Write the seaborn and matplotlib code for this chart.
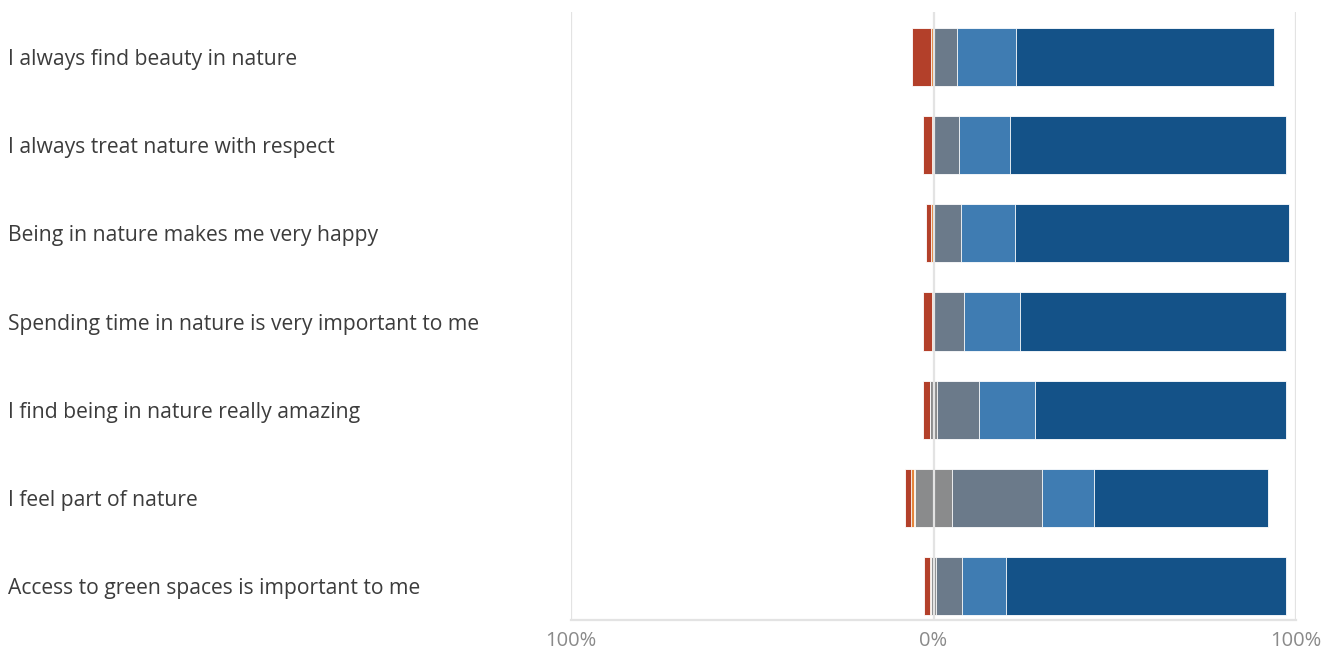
import matplotlib
matplotlib.use("Agg")
import matplotlib.pyplot as plt
import matplotlib.transforms as mtransforms
import pandas as pd
import seaborn as sns

# Survey statements (top to bottom)
statements = [
    "I always find beauty in nature",
    "I always treat nature with respect",
    "Being in nature makes me very happy",
    "Spending time in nature is very important to me",
    "I find being in nature really amazing",
    "I feel part of nature",
    "Access to green spaces is important to me",
]

# Response shares (%) on a 7-point agreement scale
strongly_disagree = [5.2, 2.5, 1.6, 2.4, 1.8, 1.5, 1.8]
disagree = [0.6, 0.3, 0.4, 0.3, 0.1, 0.8, 0.2]
somewhat_disagree = [0.0, 0.0, 0.0, 0.0, 0.0, 0.5, 0.0]
neutral = [0.3, 0.4, 0.4, 0.4, 2.0, 10.0, 1.4]
somewhat_agree = [6.3, 6.9, 7.4, 8.2, 11.6, 24.8, 7.2]
agree = [16.3, 14.1, 14.9, 15.4, 15.4, 14.6, 12.1]
strongly_agree = [71.3, 75.9, 75.5, 73.3, 69.1, 47.8, 77.3]

tick_values = [-100, 0, 100]
tick_labels = ["100%", "0%", "100%"]

colors = {
    "strongly_disagree": "#B3402A",
    "disagree": "#E4843A",
    "somewhat_disagree": "#F0B987",
    "neutral": "#8A8B8C",
    "somewhat_agree": "#6B7A8A",
    "agree": "#3F7CB2",
    "strongly_agree": "#145288",
}

df = pd.DataFrame({
    "statement": statements,
    "sd": strongly_disagree,
    "d": disagree,
    "swd": somewhat_disagree,
    "n": neutral,
    "swa": somewhat_agree,
    "a": agree,
    "sa": strongly_agree,
})

half_n = df["n"] / 2
# Cumulative extents: agreement grows to the right of zero, disagreement to the left,
# with the neutral share split evenly across zero.
right_layers = [
    ("strongly_agree", half_n + df["swa"] + df["a"] + df["sa"]),
    ("agree", half_n + df["swa"] + df["a"]),
    ("somewhat_agree", half_n + df["swa"]),
    ("neutral", half_n),
]
left_layers = [
    ("strongly_disagree", -(half_n + df["swd"] + df["d"] + df["sd"])),
    ("disagree", -(half_n + df["swd"] + df["d"])),
    ("somewhat_disagree", -(half_n + df["swd"])),
    ("neutral", -half_n),
]

sns.set_theme(style="white")
plt.rcParams["font.family"] = ["Open Sans", "DejaVu Sans"]

fig = plt.figure(figsize=(13.36, 6.49), dpi=100)
ax = fig.add_axes([0.4274, 0.0447, 0.5427, 0.9368])

for name, extent in right_layers + left_layers:
    sns.barplot(
        x=extent.values, y=df["statement"], orient="h",
        color=colors[name], saturation=1, width=0.66,
        edgecolor="#ffffff", linewidth=0.6, ax=ax, zorder=2,
    )

ax.set_xlim(-100, 100)
ax.set_ylim(6.385, -0.51)

for v in tick_values:
    ax.axvline(v, color="#e3e3e3", linewidth=1.6, zorder=3)

for side in ["top", "left", "right"]:
    ax.spines[side].set_visible(False)
ax.spines["bottom"].set_color("#e3e3e3")
ax.spines["bottom"].set_linewidth(1.6)

ax.set_xticks(tick_values)
ax.set_xticklabels(tick_labels, color="#8a8a8a", fontsize=14.5)
ax.tick_params(axis="x", length=0, pad=8)
ax.set_xlabel("")
ax.set_ylabel("")

# Statement labels pinned to the figure's left margin, one per bar row
ax.set_yticks([])
label_transform = mtransforms.blended_transform_factory(fig.transFigure, ax.transData)
for i, label in enumerate(statements):
    ax.text(
        8 / 1336, i + 0.03, label, fontsize=15.2, color="#3c3c3c",
        ha="left", va="center", transform=label_transform,
    )

fig.savefig("out.png", dpi=100, facecolor="white")
